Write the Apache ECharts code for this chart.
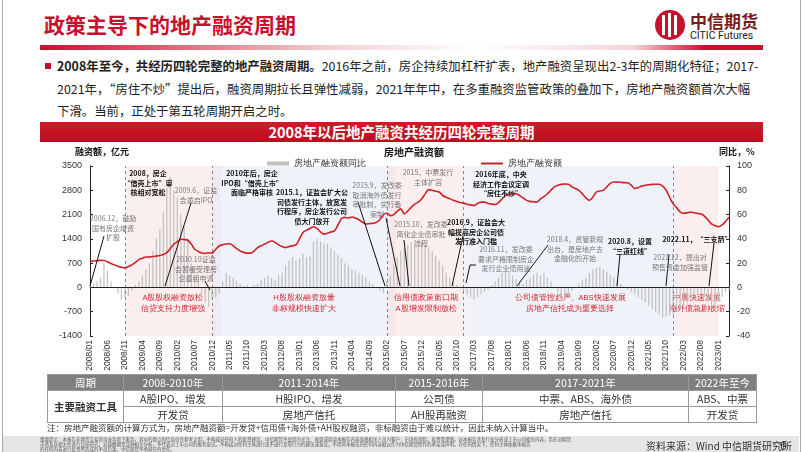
<!DOCTYPE html>
<html><head><meta charset="utf-8">
<script src="https://cdn.jsdelivr.net/npm/echarts@6/dist/echarts.min.js"></script>
<style>
body{margin:0;width:802px;height:452px;overflow:hidden;background:#fff;font-family:"Noto Sans CJK SC",sans-serif;position:relative}
.a{position:absolute;white-space:nowrap}
#c{position:absolute;left:0;top:0;width:802px;height:452px}
table{border-collapse:collapse;font-size:10.5px;color:#333}
td{border:1px solid #999;text-align:center;height:13px;padding:0}
</style></head><body>
<div class="a" style="left:2px;top:0;width:797px;height:452px;border-left:1px solid #aaa;border-right:1px solid #aaa"></div>
<div class="a" style="left:44px;top:9px;font-size:21px;font-weight:bold;color:#c8102e">政策主导下的地产融资周期</div>
<div class="a" style="left:40px;top:45px;width:723px;height:5px;background:linear-gradient(90deg,#c8102e 0%,#f3d0d3 40%,#fff 60%,#f5d5d8 82%,#c8102e 92%,#c8102e 100%)"></div>
<div class="a" style="left:655px;top:10px;width:30px;height:30px;border-radius:50%;background:#c8102e"></div>
<div class="a" style="left:662px;top:15px;width:3px;height:20px;background:#fff"></div>
<div class="a" style="left:668px;top:13px;width:3px;height:24px;background:#fff"></div>
<div class="a" style="left:674px;top:15px;width:3px;height:20px;background:#fff"></div>
<div class="a" style="left:690px;top:8px;font-size:17px;font-weight:bold;color:#7a1a1a">中信期货</div>
<div class="a" style="left:690px;top:29px;font-size:10.5px;color:#222;font-family:Roboto">CITIC Futures</div>
<div class="a" style="left:45px;top:63px;width:6px;height:6px;background:#c8102e"></div>
<div class="a" style="left:57px;top:55px;font-size:12.4px;color:#222;line-height:22.5px">
<b>2008年至今，共经历四轮完整的地产融资周期。</b>2016年之前，房企持续加杠杆扩表，地产融资呈现出2-3年的周期化特征；2017-<br>2021年，“房住不炒”提出后，融资周期拉长且弹性减弱，2021年年中，在多重融资监管政策的叠加下，房地产融资额首次大幅<br>下滑。当前，正处于第五轮周期开启之时。</div>
<div class="a" style="left:40px;top:122px;width:723px;height:20px;background:linear-gradient(#d01a2a,#b80f20);color:#fff;font-weight:bold;font-size:14.5px;text-align:center;line-height:20px">2008年以后地产融资共经历四轮完整周期</div>
<div id="c"></div>
<div class="a" style="left:47px;top:374px">
<table>
<tr style="background:#7f7f7f;color:#fff;height:15px"><td style="width:75px">周期</td><td style="width:98px">2008-2010年</td><td style="width:172px">2011-2014年</td><td style="width:86px">2015-2016年</td><td style="width:205px">2017-2021年</td><td style="width:67px">2022年至今</td></tr>
<tr><td rowspan="2" style="font-weight:bold">主要融资工具</td><td>A股IPO、增发</td><td>H股IPO、增发</td><td>公司债</td><td>中票、ABS、海外债</td><td>ABS、中票</td></tr>
<tr><td>开发贷</td><td>房地产信托</td><td>AH股再融资</td><td>房地产信托</td><td>开发贷</td></tr>
</table></div>
<div class="a" style="left:47px;top:421px;font-size:8.5px;color:#333">注：房地产融资额的计算方式为，房地产融资额=开发贷+信用债+海外债+AH股权融资，非标融资由于难以统计，因此未纳入计算当中。</div>
<div class="a" style="left:3px;top:436px;width:796px;height:16px;background:#e6e6e6"></div>
<div class="a" style="left:40px;top:437px;font-size:4.5px;color:#555;line-height:5px">重要提示：本报告非期货交易咨询业务项下服务，其中的观点和信息仅作参考之用，不构成对任何人的投资建议。中信期货不会因为关注、收到或阅读本报告内容而视相关人员为客户；市场有风险，投资需谨慎。如本报告涉及行业分析或上市公司相关内容，旨在对期货<br>市场及其相关性进行比较研究，对缺额期货品种相关分析，不代表对上市公司的推荐意见。不构成对任何主体进行或不进行某项行为的建议或意见，不得将本报告的任何内容据以作为中信期货所作的承诺或声明。在任何情况下，任何主体依据本报告<br>的任何内容进行投资所造成的不良后果，中信期货不承担任何责任。</div>
<div class="a" style="left:646px;top:438px;font-size:10px;color:#333">资料来源：Wind 中信期货研究所</div>
<div class="a" style="left:780px;top:436px;font-size:12px;color:#333">6</div>
<script>
const months=[];for(let y=2008;y<=2023;y++)for(let m=1;m<=12;m++){if(y===2023&&m>4)break;months.push(y+'/'+String(m).padStart(2,'0'));}
const amount=[740,760,770,780,775,740,690,650,610,580,565,600,650,720,800,840,875,880,890,905,920,950,1000,1120,1245,1320,1390,1380,1360,1250,1100,1040,990,980,1000,990,1100,1195,1230,1250,1260,1200,1120,1050,1010,990,990,1050,1150,1200,1245,1300,1340,1300,1225,1180,1150,1180,1200,1225,1400,1585,1650,1700,1750,1700,1600,1535,1560,1600,1630,1800,1980,2020,2000,2030,2000,1950,1880,1830,1840,1850,1875,1950,2100,2140,2070,2100,2200,2265,2120,2200,2310,2400,2460,2550,2700,2820,2800,2770,2750,2650,2600,2560,2510,2480,2450,2430,2400,2380,2360,2420,2460,2460,2420,2400,2390,2450,2550,2650,2680,2700,2700,2650,2580,2510,2480,2470,2460,2550,2620,2700,2800,2900,2945,2970,2980,2975,2900,2850,2800,2700,2580,2510,2600,2750,2780,2800,2900,3000,3040,3040,3030,3020,3015,2950,2850,2880,2920,2945,2960,2970,2975,2975,2920,2800,2600,2410,2300,2180,2140,2150,2170,2150,2130,2120,2050,1950,1830,1780,1750,1800,1900,2020];
const yoy=[2,3,5,8,20,14,5,0,-5,-10,-9,-7,-3,2,5,10,15,20,30,40,48,62,82,91,80,74,60,50,40,20,10,5,-5,-12,-16,-10,-8,-5,5,12,10,8,5,3,1,2,0,2,3,6,8,10,8,6,10,12,18,22,25,22,24,28,25,26,38,40,38,36,36,33,30,27,24,20,18,15,14,12,10,8,5,3,0,-3,-5,5,10,18,25,30,32,35,37,38,35,37,34,33,30,26,22,18,12,8,4,2,0,-3,-6,-8,-10,-8,-6,-4,-2,2,5,8,12,13,12,10,7,5,3,6,8,10,12,10,12,8,5,0,-4,-7,-9,-6,-3,0,3,6,8,12,15,16,17,15,13,10,8,5,3,1,-2,-4,-6,-8,-10,-12,-15,-18,-20,-22,-25,-24,-23,-22,-20,-18,-15,-13,-10,-8,-6,-5,-8,-10,-15,-18,-12,-8,-4,-2];
const leftTicks=[-1400,3500,700], rightTicks=[-40,100,20];
const phases=[['2008/11','2010/12','A股股权融资放松\n信贷支持力度增强','p'],['2010/12','2015/02','H股股权融资放量\n非标规模快速扩大','b'],['2015/02','2016/12','信用债政策窗口期\nA股增发限制放松','p'],['2016/12','2021/12','公司债管控趋严、ABS快速发展\n房地产信托成为重要选择','b'],['2021/12','2023/04','中票快速发展\n海外债急剧收缩','p']];
const notes=[
 [113,214,'2006.12，鼓励\n国有房企增资\n扩股',0,[104,236,90,286]],
 [148,169,'2008，房企\n“借壳上市”审\n核相对宽松',1],
 [196,186,'2009.6，证监\n会重启IPO',0,[191,203,165,286]],
 [196,255,'2010.10证监\n会暂缓受理房\n企重组申请',0,[205,281,210,290]],
 [252,169,'2010年后，房企\nIPO和“借壳上市”\n面临严格审核',1],
 [312,188,'2015.1，证监会扩大公\n司债发行主体，放宽发\n行程序，房企发行公司\n债大门放开',1,[358,202,385,286]],
 [377,181,'2015.9，发改委\n取消海外债发行\n审批制，实行备\n案制',0,[386,218,400,286]],
 [428,168,'2015，中票发行\n主体扩容',0],
 [421,220,'2015.10，发改委\n简化企业债审批\n流程',0,[404,240,409,286]],
 [476,218,'2016.9，证监会大\n幅提高房企公司债\n发行准入门槛',1,[463,236,452,286]],
 [506,245,'2016.11，发改委\n要求严格限制房企\n发行企业债用途',0],
 [501,170,'2016年底，中央\n经济工作会议定调\n“房住不炒”',1],
 [575,235,'2018.4，资管新规\n出台，是房地产去\n金融化的开始',0,[548,245,517,286]],
 [630,237,'2020.8，设置\n“三道红线”',1,[620,254,617,286]],
 [680,253,'2021.12，提出对\n预售资金加强监管',0,[669,254,666,286]],
 [697,235,'2022.11，“三支箭”',1,[714,243,709,286]]
];
const ch=echarts.init(document.getElementById('c'));
const g=[];
notes.forEach(n=>{g.push({type:'text',x:n[0],y:n[1],z:10,style:{text:n[2],fill:n[3]?'#111':'#777',font:(n[3]?'bold ':'')+'7px "Noto Sans CJK SC"',align:'center',lineHeight:9.5}});
 if(n[4])g.push({type:'line',z:9,shape:{x1:n[4][0],y1:n[4][1],x2:n[4][2],y2:n[4][3]},style:{stroke:'#111',lineWidth:1}});});
g.push({type:'line',z:9,shape:{x1:466,y1:283,x2:470,y2:265},style:{stroke:'#111'}},{type:'line',z:9,shape:{x1:470,y1:265,x2:476,y2:265},style:{stroke:'#111'}});
g.push({type:'text',x:75,y:147,style:{text:'融资额，亿元',font:'bold 9px "Noto Sans CJK SC"',fill:'#111'}});
g.push({type:'text',x:719,y:147,style:{text:'同比，%',font:'bold 9px "Noto Sans CJK SC"',fill:'#111'}});
g.push({type:'text',x:414,y:147,style:{text:'房地产融资额',font:'bold 10px "Noto Sans CJK SC"',fill:'#111',align:'center'}});
ch.setOption({
 animation:false,
 grid:{left:90,right:73,top:166,bottom:116,outerBoundsMode:'none',containLabel:false},
 legend:[{data:['房地产融资额同比'],left:262,top:154,itemWidth:22,itemHeight:4,textStyle:{fontSize:9,color:'#333'},icon:'rect'},
         {data:['房地产融资额'],left:476,top:154,itemWidth:22,itemHeight:2,icon:'rect',textStyle:{fontSize:9,color:'#333'}}],
 graphic:g,
 xAxis:{type:'category',data:months,boundaryGap:false,axisLine:{show:false},axisTick:{show:false},
  axisLabel:{interval:4,rotate:90,fontSize:8.5,color:'#333',margin:4}},
 yAxis:[{type:'value',min:leftTicks[0],max:leftTicks[1],interval:leftTicks[2],splitLine:{show:false},
   axisLine:{show:true,lineStyle:{color:'#222'}},axisTick:{show:true,inside:true,length:3},axisLabel:{fontSize:9,color:'#333',formatter:v=>String(v)}},
  {type:'value',min:rightTicks[0],max:rightTicks[1],interval:rightTicks[2],splitLine:{show:false},
   axisLine:{show:true,lineStyle:{color:'#222'}},axisTick:{show:true,inside:true,length:3},axisLabel:{fontSize:9,color:'#333'}}],
 series:[
  {name:'房地产融资额同比',type:'bar',yAxisIndex:1,data:yoy,barWidth:1.2,itemStyle:{color:'#bfbfbf'},z:2,
   markArea:{silent:true,data:phases.map(p=>[{xAxis:p[0],itemStyle:{color:p[3]==='p'?'rgba(248,224,224,0.55)':'rgba(225,232,244,0.55)'},
     label:{show:true,position:'insideBottom',distance:22,formatter:p[2],color:'#d0202a',fontSize:7.5,lineHeight:10.5,align:'center'}},{xAxis:p[1]}])},
   markLine:{silent:true,symbol:'none',label:{show:false},lineStyle:{type:[3,3],color:'#888',width:1},
     data:phases.map(p=>({xAxis:p[0]}))}},
  {name:'房地产融资额',type:'line',data:amount,symbol:'none',smooth:0.3,lineStyle:{color:'#d0202a',width:1.6},itemStyle:{color:'#d0202a'},z:5,
   markLine:{silent:true,symbol:'none',label:{show:false},lineStyle:{type:'solid',color:'#222',width:1},data:[{yAxis:0}]}}
 ]});
</script></body></html>
